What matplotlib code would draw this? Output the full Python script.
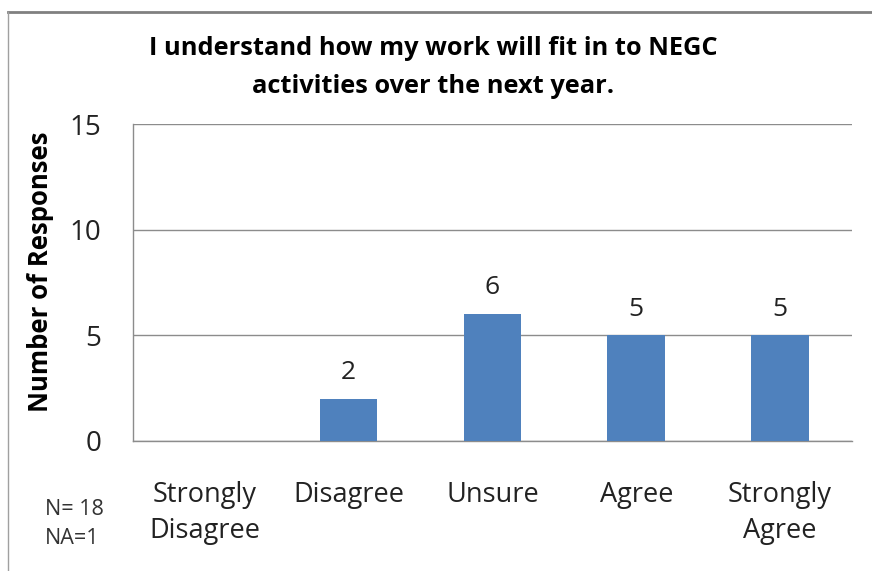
import matplotlib.pyplot as plt
from matplotlib.lines import Line2D

# Data
categories = ["Strongly\nDisagree", "Disagree", "Unsure", "Agree", "Strongly\nAgree"]
responses = [0, 2, 6, 5, 5]
labels = ["", "2", "6", "5", "5"]
y_ticks = [0, 5, 10, 15]

plt.rcParams['font.family'] = ['Open Sans', 'DejaVu Sans']

fig = plt.figure(figsize=(8.72, 5.71), dpi=100)
ax = fig.add_axes([0.1525, 0.2277, 0.8245, 0.5551])

x = range(len(categories))
bars = ax.bar(x, responses, width=0.4, color="#4F81BD", zorder=3)

# Data labels above the bars
for xi, val, lab in zip(x, responses, labels):
    if lab:
        ax.text(xi, val + 0.65, lab, ha="center", va="bottom", fontsize=19, color="#222222")

ax.set_xlim(-0.5, len(categories) - 0.5)
ax.set_ylim(0, 15)
ax.set_yticks(y_ticks)
ax.set_yticklabels([str(t) for t in y_ticks], fontsize=20)
ax.set_xticks(list(x))
ax.set_xticklabels(categories, fontsize=19.5, linespacing=1.35)
ax.tick_params(axis="both", length=0, colors="#222222")
ax.tick_params(axis="y", pad=23)
ax.tick_params(axis="x", pad=29)

ax.grid(axis="y", color="#8c8c8c", linewidth=1, zorder=0)
for side in ["top", "right"]:
    ax.spines[side].set_visible(False)
for side in ["left", "bottom"]:
    ax.spines[side].set_color("#8c8c8c")
    ax.spines[side].set_linewidth(1)

ax.set_ylabel("Number of Responses", fontsize=18.5, fontweight="bold", va="center")
ax.yaxis.set_label_coords(-0.129, 0.535)

fig.text(0.497, 0.937, "I understand how my work will fit in to NEGC\nactivities over the next year.",
         ha="center", va="top", fontsize=18.3, fontweight="bold", linespacing=1.7)

fig.text(0.052, 0.083, "N= 18\nNA=1", ha="left", va="center", fontsize=15.5, color="#333333",
         linespacing=1.5)

# Chart border (top and left edges visible in the crop)
fig.add_artist(Line2D([0.009, 1.0], [0.979, 0.979], color="#808080", linewidth=2))
fig.add_artist(Line2D([0.009, 0.009], [0.0, 0.979], color="#a0a0a0", linewidth=1))

fig.savefig("out.png", dpi=100)
